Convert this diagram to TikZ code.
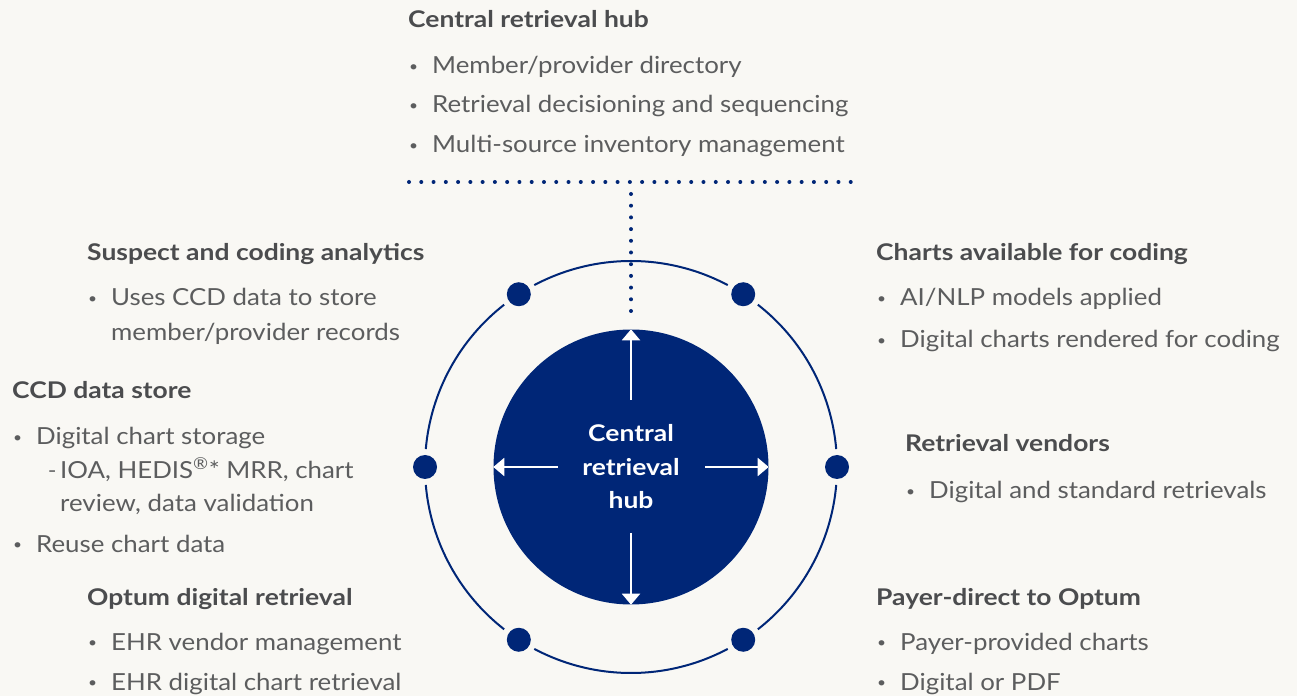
\documentclass[tikz,border=0pt]{standalone}
\usepackage{fontspec}
\setmainfont{Lato}[FakeStretch=1.1,BoldFeatures={FakeStretch=1.15}]
\usepackage{tikz}
\usetikzlibrary{calc}
\usetikzlibrary{arrows.meta}
\definecolor{hubblue}{rgb}{0.,0.149,0.467}
\definecolor{headgray}{rgb}{0.294,0.298,0.306}
\definecolor{bodygray}{rgb}{0.36,0.365,0.37}
\definecolor{paper}{rgb}{0.976,0.973,0.957}
\newcommand{\bul}{\makebox[24pt][l]{\hspace{1pt}\raisebox{2.6pt}{\scalebox{0.6}{\textbullet}}}}
\newcommand{\nobul}{\makebox[24pt][l]{}}
\newcommand{\subdash}{\makebox[24pt][l]{\hspace{12pt}\scalebox{0.55}[1]{--}}}
\tikzset{
  heading/.style={anchor=base west,inner sep=0pt,text=headgray,font=\fontsize{23}{27}\selectfont\bfseries},
  itemtxt/.style={anchor=base west,inner sep=0pt,text=bodygray,font=\fontsize{23.5}{27}\selectfont},
  ring/.style={line width=2pt,color=hubblue},
  ringdot/.style={circle,fill=hubblue,inner sep=0pt,minimum size=24pt},
  dotline/.style={line width=4pt,color=hubblue,line cap=round,dash pattern=on 0pt off 12.27pt},
  spoke/.style={-{Triangle[width=18pt,length=11pt]},line width=2pt,color=white}
}

\begin{document}
\begin{tikzpicture}[line join=round,x=1pt,y=1pt]
  \fill[paper] (0,0) rectangle (1297,696);
  \useasboundingbox (0,0) rectangle (1297,696);

  % hub and outer ring
  \node[circle,fill=hubblue,inner sep=0pt,minimum size=275pt,text=white,align=center,
        font=\fontsize{23}{33.5}\selectfont\bfseries] (hub) at (631,229) {Central\\retrieval\\hub};
  \foreach \a/\b in {5/52,62/118,128/175,185/232,242/298,308/355}
    \draw[ring] ($(hub.center)+(\a:206)$) arc[start angle=\a,end angle=\b,radius=206];
  \foreach \a [count=\i] in {0,57,123,180,237,303}
    \node[ringdot] (rim-\i) at ($(hub.center)+(\a:206)$) {};

  % dotted tie to the top list
  \coordinate (barL) at (409,514);
  \coordinate (barR) at (851,514);
  \coordinate (tap) at (631,502);
  \coordinate (tapend) at (631,385);
  \draw[dotline] (barL) -- (barR);
  \draw[dotline,dash pattern=on 0pt off 11.7pt] (tap) -- (tapend);

  % arrows out of the hub
  \draw[spoke] ([yshift=67pt]hub.center) -- (hub.north);
  \draw[spoke] ([yshift=-66pt]hub.center) -- (hub.south);
  \draw[spoke] ([xshift=-73pt]hub.center) -- (hub.west);
  \draw[spoke] ([xshift=74pt]hub.center) -- (hub.east);

  % top
  \node[heading] (tophead) at (408,668) {Central retrieval hub};
  \node[itemtxt] (top-1) at (408,622) {\bul Member/provider directory};
  \node[itemtxt] (top-2) at (408,583) {\bul Retrieval decisioning and sequencing};
  \node[itemtxt] (top-3) at (408,543) {\bul Multi-source inventory management};

  % left side
  \node[heading] (susphead) at (87,435) {Suspect and coding analytics};
  \node[itemtxt] (susp-1) at (87,390) {\bul Uses CCD data to store};
  \node[itemtxt] (susp-2) at (87,355) {\nobul member/provider records};

  \node[heading] (ccdhead) at (12,297) {CCD data store};
  \node[itemtxt] (ccd-1) at (12,251) {\bul Digital chart storage};
  \node[itemtxt] (ccd-2) at (12,217) {\nobul\subdash IOA, HEDIS\textsuperscript{\textregistered}* MRR, chart};
  \node[itemtxt] (ccd-3) at (12,184) {\nobul\nobul review, data validation};
  \node[itemtxt] (ccd-4) at (12,144) {\bul Reuse chart data};

  \node[heading] (optumhead) at (87,91) {Optum digital retrieval};
  \node[itemtxt] (optum-1) at (87,46) {\bul EHR vendor management};
  \node[itemtxt] (optum-2) at (87,6) {\bul EHR digital chart retrieval};

  % right side
  \node[heading] (charthead) at (876,435) {Charts available for coding};
  \node[itemtxt] (chart-1) at (876,390) {\bul AI/NLP models applied};
  \node[itemtxt] (chart-2) at (876,348) {\bul Digital charts rendered for coding};

  \node[heading] (vendhead) at (905,244) {Retrieval vendors};
  \node[itemtxt] (vend-1) at (905,197) {\bul Digital and standard retrievals};

  \node[heading] (payerhead) at (876,91) {Payer-direct to Optum};
  \node[itemtxt] (payer-1) at (876,46) {\bul Payer-provided charts};
  \node[itemtxt] (payer-2) at (876,6) {\bul Digital or PDF};
\end{tikzpicture}
\end{document}
